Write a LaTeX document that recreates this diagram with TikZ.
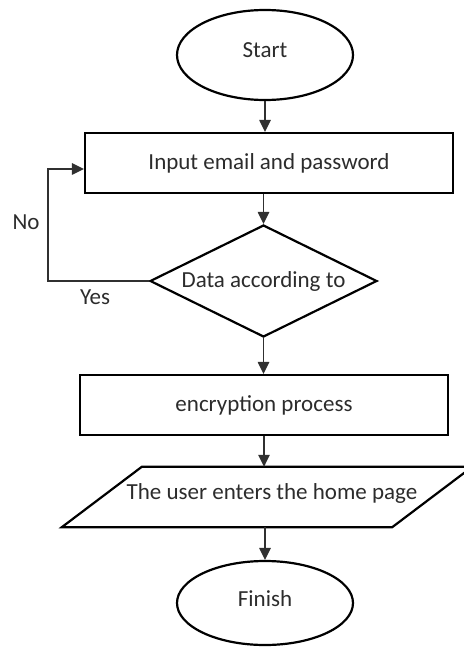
\documentclass[tikz,border=0pt]{standalone}
\usepackage{fontspec}
\setmainfont{Carlito}
\usetikzlibrary{shapes.geometric,arrows.meta}

\definecolor{inkText}{HTML}{2C2C2C}
\definecolor{inkLine}{HTML}{303030}

\tikzset{
  lbl/.style={font=\fontsize{23bp}{27bp}\selectfont, text=inkText},
  outline/.style={draw=black, line width=2.2bp},
  terminal/.style={outline, lbl, ellipse, inner sep=0pt, text depth=9bp},
  procbox/.style={outline, lbl, rectangle, minimum width=368bp, minimum height=60bp, inner sep=0pt},
  decision/.style={outline, lbl, diamond, aspect=2.03, minimum width=227bp, minimum height=112bp, inner sep=0pt},
  conn/.style={draw=inkLine, line width=1.3bp, -{Triangle[length=12bp, width=11.5bp]}}
}

\begin{document}
\begin{tikzpicture}[x=1bp, y=-1bp]
  \useasboundingbox (0,0) rectangle (464,647);
  \clip (0,0) rectangle (464,647);

  % shapes
  \node[terminal, minimum width=176bp, minimum height=90bp] (start) at (265,55) {Start};
  \node[procbox] (in) at (269,163) {Input email and password};
  \node[decision] (dec) at (263.5,281) {Data according to};
  \node[procbox] (enc) at (264,405) {encryption process};

  % parallelogram: an anchor box plus its slanted outline
  \node[rectangle, minimum width=330bp, minimum height=60bp, inner sep=0pt] (home) at (267,497) {};
  \draw[outline, line join=miter]
    ([xshift=40bp]home.north west) -- ([xshift=40bp]home.north east)
    -- ([xshift=-40bp]home.south east) -- ([xshift=-40bp]home.south west) -- cycle;
  \node[lbl] (homeText) at (272,493) {The user enters the home page};

  \node[terminal, minimum width=176bp, minimum height=84bp] (fin) at (265,603) {Finish};

  % connectors
  \draw[conn] (start.south) -- (start.south |- in.north);
  \draw[conn] (dec.north |- in.south) -- (dec.north);
  \draw[conn] (dec.south) -- (dec.south |- enc.north);
  \draw[conn] (enc.south) -- (enc.south |- home.north);
  \draw[conn] (fin.north |- home.south) -- (fin.north);

  % retry loop back to the input step
  \coordinate (loopx) at (48,0);
  \coordinate (inEntry) at ([yshift=-6bp]in.west);
  \draw[conn] (dec.west) -- (dec.west -| loopx) |- (inEntry);

  % branch labels
  \node[lbl] (noLbl) at (26,222) {No};
  \node[lbl] (yesLbl) at (95,297) {Yes};
\end{tikzpicture}
\end{document}
